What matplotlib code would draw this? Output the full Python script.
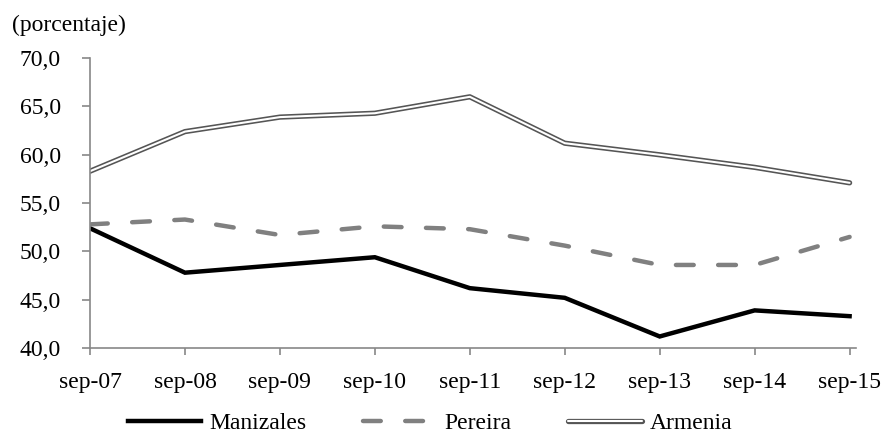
import matplotlib
matplotlib.use('Agg')
from matplotlib import pyplot
from matplotlib.legend_handler import HandlerTuple

# periods on the x axis
periods = ['sep-07', 'sep-08', 'sep-09', 'sep-10', 'sep-11',
           'sep-12', 'sep-13', 'sep-14', 'sep-15']
# values (porcentaje)
manizales = [52.4, 47.8, 48.6, 49.4, 46.2, 45.2, 41.2, 43.9, 43.3]
pereira = [52.8, 53.3, 51.7, 52.6, 52.3, 50.6, 48.6, 48.6, 51.5]
armenia = [58.3, 62.4, 63.9, 64.3, 66.0, 61.2, 60.0, 58.7, 57.1]
# y tick values and labels
yticks = [40, 45, 50, 55, 60, 65, 70]
ytick_labels = ['40,0', '45,0', '50,0', '55,0', '60,0', '65,0', '70,0']

pyplot.rcParams['font.family'] = ['Liberation Serif', 'DejaVu Serif']
pyplot.rcParams['font.size'] = 17

fig = pyplot.figure(figsize=(8.91, 4.34), dpi=100)
ax = fig.add_axes([0.101, 0.198, 0.860, 0.668])

x = list(range(len(periods)))

# the three series
l1, = ax.plot(x, manizales, color='black', linewidth=3.2,
              solid_joinstyle='miter', label='Manizales')
l2, = ax.plot(x, pereira, color='#808080', linewidth=3.2,
              dashes=(4.0, 5.5), dash_capstyle='round', label='Pereira')
# Armenia is a double line: dark wide line with a thin white core
l3a, = ax.plot(x, armenia, color='#555555', linewidth=3.8,
               solid_capstyle='round')
l3b, = ax.plot(x, armenia, color='white', linewidth=1.5,
               solid_capstyle='round')

# axes styling
ax.set_xlim(0, 8.07)
ax.set_ylim(40, 70)
ax.set_xticks(x)
ax.set_xticklabels(periods)
ax.set_yticks(yticks)
ax.set_yticklabels(ytick_labels)
for side in ['top', 'right']:
    ax.spines[side].set_visible(False)
for side in ['left', 'bottom']:
    ax.spines[side].set_color('#888888')
    ax.spines[side].set_linewidth(1.2)
ax.tick_params(axis='y', direction='out', length=6, width=1.2,
               color='#888888', pad=15)
ax.tick_params(axis='x', direction='out', length=5, width=1.2,
               color='#888888', pad=12)

# unit label
fig.text(0.013, 0.942, '(porcentaje)', ha='left', va='center', fontsize=17)

# legend with a double line for Armenia
fig.legend([l1, l2, (l3a, l3b)], ['Manizales', 'Pereira', 'Armenia'],
           handler_map={tuple: HandlerTuple(ndivide=1)},
           loc='center', bbox_to_anchor=(0.483, 0.025), ncol=3,
           frameon=False, handlelength=3.1, columnspacing=2.4,
           handletextpad=0.35, borderpad=0.0)

fig.savefig('out.png', dpi=100)
